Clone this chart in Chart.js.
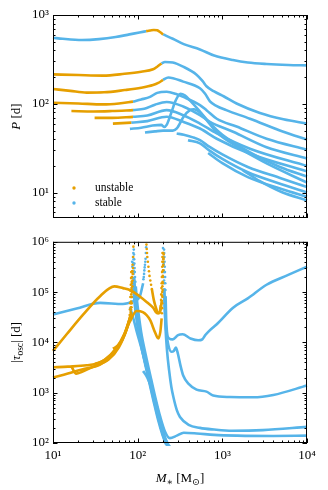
<!DOCTYPE html>
<html><head><meta charset="utf-8">
<script src="https://cdn.jsdelivr.net/npm/chart.js@4.4.1/dist/chart.umd.min.js"></script>
<style>
html,body{margin:0;padding:0;background:#fff;}
#wrap{position:relative;width:328px;height:490px;overflow:hidden;}
#c1{position:absolute;left:0;top:0;}
#c2{position:absolute;left:0;top:230px;}
</style></head><body>
<div id="wrap"><canvas id="c1" width="328" height="230"></canvas><canvas id="c2" width="328" height="260"></canvas></div>
<script>
const ORANGE = '#E69F00', BLUE = '#56B4E9';
const SERIF = '"Liberation Serif", "DejaVu Serif", serif';

const xTickValues = [10, 100, 1000, 10000];
const xTickLabels = ['10¹', '10²', '10³', '10⁴'];
const pTickValues = [10, 100, 1000];
const pTickLabels = ['10¹', '10²', '10³'];
const tauTickValues = [100, 1000, 10000, 100000, 1000000];
const tauTickLabels = ['10²', '10³', '10⁴', '10⁵', '10⁶'];
const legendLabels = ['unstable', 'stable'];

// ---- top panel: P [d] vs M [Msun] ----
const t1StableA = [[10,555],[13,540],[22,523],[35,535],[55,565],[80,605],[105,635],[126,658]];
const t1Unstable = [[126,658],[140,668],[155,678],[170,672],[185,640],[200,605]];
const t1StableB = [[200,605],[260,540],[350,470],[544,410],[800,350],[1334,311],[2000,292],[3337,281],[6000,274],[10000,271]];
const t2Unstable = [[10,215],[20,211],[39,208],[70,218],[110,230],[152,245],[170,262],[191,285]];
const t2Stable = [[191,285],[210,296],[260,292],[345,262],[496,213],[586,180],[650,158],[800,138],[1047,121],[1473,101],[2780,79],[5260,67],[10000,60]];
const t3Unstable = [[10,147],[16,140],[25,134],[40,135],[70,143],[110,152],[152,163],[175,172],[199,186]];
const t3Stable = [[199,186],[230,198],[345,178],[544,150],[623,131],[714,107],[850,95],[1113,85],[2120,68],[5260,48.5],[10000,39.6]];
const t4Unstable = [[10,103],[20,101],[39,98.6],[60,101],[88,106]];
const t4Stable = [[88,106],[110,112],[140,120],[170,133],[220,137],[280,130],[345,120],[544,97],[650,85],[860,68],[1473,55.6],[3330,40.5],[10000,30.5]];
const t5Unstable = [[16.5,83],[30,82],[50,83],[88,85]];
const t5Stable = [[88,85],[120,88],[160,98],[220,105],[345,93.5],[544,74.6],[714,62.8],[1340,48.5],[3330,32.5],[10000,24.3]];
const t6Unstable = [[31,69.5],[50,69.5],[88,71.5]];
const t6Stable = [[88,71.5],[130,74],[220,85],[345,74.6],[544,60],[860,46.5],[2120,31.3],[10000,20]];
const t7Unstable = [[51,60],[84,61.5]];
const t7Stable = [[84,61.5],[130,64],[220,71.6],[345,62.8],[544,52.8],[860,40.5],[2120,27.5],[10000,17.4]];
const t8Stable = [[81,52.3],[110,54],[150,57],[190,58],[205,55],[220,58],[250,80],[280,108],[320,130],[360,125],[420,108],[544,82],[700,62],[1000,45],[2120,28.5],[4790,19.5],[10000,15.2]];
const t9Stable = [[122,47.6],[160,49],[200,50],[260,50],[290,53],[350,72],[414,85],[460,87],[544,80],[650,66],[860,48],[1500,33],[3000,22.5],[10000,13]];
const t10Stable = [[289,46.4],[350,45],[450,42],[544,39],[700,33],[1000,27],[2000,19.5],[5000,14.5],[10000,11.6]];
const t11Stable = [[393,39],[544,36],[700,30],[1000,24],[2000,17],[5000,12.5],[10000,10.1]];
const t12Stable = [[680,28],[1000,21.5],[2000,15],[5000,11],[10000,9]];
const t13Stable = [[1750,17.9],[2780,13.5],[5000,10.2],[10000,8.2]];

// ---- bottom panel: |tau_osc| [d] vs M ----
const b1StableA = [[10,3.6e4],[19,4.7e4],[36,6.1e4],[67,5.8e4],[89,6.6e4],[106,8.2e4],[116,1.5e5]];
const b1StableADots = [[117,1.8e5],[118,2.0e5],[119,2.3e5],[120,2.7e5],[121,3.1e5],[122,3.5e5],[123,4e5],[124,4.6e5],[125,6.0e5],[126,7.8e5]];
const b1UnstableDots = [[127,8.8e5],[128,7.2e5],[129,6e5],[130,5e5],[132,4e5],[134,3.2e5],[136,2.6e5],[138,2.1e5],[141,1.7e5],[144,1.4e5],[147,1.15e5],
  [194,8.5e4],[195,1e5],[196,1.3e5],[197,1.6e5],[198,2.1e5],[199,2.7e5],[200,3.3e5],[201,4e5],[202,4.8e5],[203,5.6e5]];
const b1Unstable = [[147,1.15e5],[155,7e4],[165,4.8e4],[175,3.8e4],[185,4.2e4],[193,7e4]];
const b1StableBDots = [[205,7e5],[206,6e5],[207,5e5],[208,4e5],[209,3.2e5],[210,2.5e5],[211,2e5],[212,1.5e5],[213,1.1e5],[214,8e4]];
const b1StableB = [[214,8e4],[217,3e4],[222,1.6e4],[235,1.2e4],[260,1.15e4],[300,1.4e4],[340,1.45e4],[420,1.2e4],[520,1.1e4],[580,1.15e4],[630,1.4e4],[700,1.7e4],[860,2.3e4],[1340,4.9e4],[2000,7.5e4],[3330,1.4e5],[6000,2.2e5],[10000,3.2e5]];
const b2Unstable = [[10,6.8e3],[14.5,1.45e4],[22.8,3.6e4],[36,8.3e4],[53,1.3e5],[67,1.2e5],[81,1.1e5],[106,8.2e4],[130,6.2e4],[152,4.9e4],[170,3.8e4],[181,3.9e4],[188,5.5e4]];
const b2UnstableDots = [[189,7e4],[190,9e4],[191,1.2e5],[192,1.5e5],[193,2e5],[194,2.5e5],[195,3.2e5],[195.5,4e5],[196,5e5],[196.5,6e5]];
const b2StableDots = [[199,7.5e5],[200,6e5],[201,4.6e5],[202,3.5e5],[203,2.7e5],[204,2e5],[205,1.5e5],[206,1.1e5]];
const b2Stable = [[206,1.1e5],[208,6e4],[212,3e4],[218,1.6e4],[230,9e3],[250,6.5e3],[268,6.8e3],[282,7.9e3],[295,6.5e3],[320,3.5e3],[345,2.2e3],[400,1.5e3],[496,1.15e3],[650,1.05e3],[780,880],[1230,820],[2300,810],[4000,900],[10000,1390]];
const b3Unstable = [[10,2.0e3],[15,2.4e3],[22,2.9e3],[36,3.6e3],[50,5.5e3],[65,1.1e4],[81,2.6e4],[97,4.2e4],[115,4.0e4],[140,2.8e4],[160,1.6e4],[175,1.2e4],[185,1.6e4],[192,3e4]];
const b3UnstableDots = [[193,3.8e4],[194,4.8e4],[195,6e4],[196,8e4],[197,1.1e5],[198,1.5e5],[199,2e5],[200,2.7e5],[200.5,3.5e5],[201,4.5e5],[201.5,6e5]];
const b3StableDots = [[202,5e5],[203,3.6e5],[204,2.5e5],[205,1.7e5]];
const b3Stable = [[206,1.2e5],[209,5e4],[213,2e4],[222,7e3],[235,2.8e3],[250,1.3e3],[265,800],[290,450],[316,330],[400,230],[544,200],[800,185],[1300,175],[3000,180],[10000,209]];
const b4Unstable = [[10,3.2e3],[15,3.3e3],[25,3.5e3],[36,4.0e3],[50,6.0e3],[65,1.1e4],[78,2.5e4],[84,4e4]];
const b4UnstableDots = [[84.5,5e4],[85,6e4],[85.5,8e4],[86,1e5],[86.5,1.3e5],[87,1.7e5],[87.5,2.3e5],[88,3e5],[88.5,5e5],[89,8e5]];
const b4StableDots = [[90,7e5],[90.5,5.6e5],[91,4.5e5],[91.5,3.7e5],[92,3e5],[92.5,2.5e5],[93,2e5],[94,1.6e5]];
const b4Stable = [[95,1.3e5],[98,7e4],[103,3.5e4],[110,1.6e4],[125,5.5e3],[145,1.8e3],[165,700],[185,330],[210,170],[240,125],[290,140],[350,160],[500,155],[800,145],[1500,140],[4000,138],[10000,140]];
const b5Unstable = [[16.4,3.4e3],[18.8,2.4e3],[22,2.6e3],[30,3.3e3],[45,4.5e3],[60,8e3],[74,1.8e4],[83,3.5e4]];
const b5UnstableDots = [[83.5,4.5e4],[84,6e4],[84.5,8e4],[85,1.1e5],[85.5,1.5e5],[86,2e5],[86.5,2.6e5],[87,3.5e5]];
const b5StableDots = [[89,6e5],[89.5,4.5e5],[90,3.5e5],[90.5,2.6e5]];
const b5Stable = [[91,2e5],[94,8e4],[100,3e4],[110,1.2e4],[125,4.5e3],[145,1.5e3],[165,550],[185,250],[205,140],[225,100],[245,80]];
const b6Unstable = [[31,3.7e3],[40,4.4e3],[55,7.5e3],[70,1.5e4],[82,3.2e4]];
const b6UnstableDots = [[82.5,4e4],[83,5e4],[83.5,6.5e4],[84,9e4],[84.5,1.2e5],[85,1.6e5],[85.5,2e5],[86,2.6e5]];
const b6StableDots = [[88,5e5],[88.5,3.8e5],[89,3e5],[89.5,2.3e5]];
const b6Stable = [[90,1.8e5],[93,7e4],[100,2.4e4],[112,8e3],[130,2.6e3],[150,900],[170,380],[190,190],[210,115],[230,85]];
const b7Unstable = [[51,7.5e3],[60,9e3],[70,1.4e4],[80,2.8e4]];
const b7UnstableDots = [[80.5,3.5e4],[81,4.5e4],[81.5,6e4],[82,8e4],[82.5,1.05e5],[83,1.4e5],[83.5,1.9e5],[84,2.5e5]];
const b7StableDots = [[86,4e5],[86.5,3.2e5],[87,2.5e5],[87.5,1.9e5]];
const b7Stable = [[88,1.5e5],[92,6e4],[100,2e4],[115,6e3],[135,1.8e3],[155,650],[175,280],[195,150],[215,95]];
const b8Stable = [[81,5e4],[88,3.2e4],[97,1.7e4],[110,8e3],[125,3.5e3],[145,1.3e3],[165,500],[185,230],[200,140],[215,100],[230,80]];
const b9Stable = [[116,2.7e3],[130,2e3],[150,1.1e3],[170,500],[190,240],[210,130],[225,95]];

// ---- helpers ----
function line(pts, color){
  return {data: pts.map(p => ({x:p[0], y:p[1]})), showLine:true, borderColor:color, backgroundColor:color,
    borderWidth:2.6, pointRadius:0, cubicInterpolationMode:'monotone', fill:false, clip:3};
}
function dots(pts, color){
  return {data: pts.map(p => ({x:p[0], y:p[1]})), showLine:false, pointRadius:1.3, pointBorderWidth:0,
    pointBackgroundColor:color, backgroundColor:color, borderColor:color, clip:3};
}
function logMarks(min, max){
  const out = [];
  for (let e = Math.floor(Math.log10(min)) - 1; e <= Math.ceil(Math.log10(max)); e++){
    for (let m = 1; m <= 9; m++){
      const v = m * Math.pow(10, e);
      if (v >= min * 0.9999 && v <= max * 1.0001) out.push([v, m === 1]);
    }
  }
  return out;
}
const framePlugin = {
  id: 'frame',
  afterDatasetsDraw(chart){
    const ctx = chart.ctx, a = chart.chartArea, xs = chart.scales.x, ys = chart.scales.y;
    ctx.save();
    ctx.strokeStyle = '#000'; ctx.lineWidth = 1;
    ctx.beginPath();
    for (const [v, maj] of logMarks(xs.min, xs.max)){
      const px = Math.round(xs.getPixelForValue(v)) + 0.5, L = maj ? 4.5 : 2.5;
      ctx.moveTo(px, a.bottom); ctx.lineTo(px, a.bottom - L);
      ctx.moveTo(px, a.top); ctx.lineTo(px, a.top + L);
    }
    for (const [v, maj] of logMarks(ys.min, ys.max)){
      const py = Math.round(ys.getPixelForValue(v)) + 0.5, L = maj ? 4.5 : 2.5;
      ctx.moveTo(a.left, py); ctx.lineTo(a.left + L, py);
      ctx.moveTo(a.right, py); ctx.lineTo(a.right - L, py);
    }
    ctx.stroke();
    ctx.strokeRect(a.left + 0.5, a.top + 0.5, a.right - a.left - 1, a.bottom - a.top - 1);
    ctx.restore();
  }
};
function drawRich(ctx, parts, x, y){
  let w = 0;
  for (const p of parts){ ctx.font = p.f; w += ctx.measureText(p.t).width; }
  let cx = x - w / 2;
  for (const p of parts){ ctx.font = p.f; ctx.fillText(p.t, cx, y + (p.dy || 0)); cx += ctx.measureText(p.t).width; }
}
const F = '13px ' + SERIF, FI = 'italic 13px ' + SERIF, FS = '9.5px ' + SERIF;
function yTitle(chart, parts){
  const ctx = chart.ctx, a = chart.chartArea;
  ctx.save();
  ctx.fillStyle = '#000'; ctx.textBaseline = 'alphabetic';
  ctx.translate(20, (a.top + a.bottom) / 2);
  ctx.rotate(-Math.PI / 2);
  drawRich(ctx, parts, 0, 0);
  ctx.restore();
}
const topTitles = {
  id: 'topTitles',
  afterDraw(chart){
    yTitle(chart, [{t:'P', f:FI}, {t:' [d]', f:F}]);
    const ctx = chart.ctx, a = chart.chartArea, cols = [ORANGE, BLUE];
    ctx.save();
    legendLabels.forEach((t, i) => {
      const y = a.bottom - 30 + 15 * i;
      ctx.fillStyle = cols[i];
      ctx.beginPath(); ctx.arc(a.left + 21, y, 1.7, 0, 2 * Math.PI); ctx.fill();
      ctx.fillStyle = '#000'; ctx.font = '11.5px ' + SERIF; ctx.textBaseline = 'middle';
      ctx.fillText(t, a.left + 42, y);
    });
    ctx.restore();
  }
};
const bottomTitles = {
  id: 'bottomTitles',
  afterDraw(chart){
    yTitle(chart, [{t:'|', f:F}, {t:'τ', f:FI}, {t:'osc', f:FS, dy:3}, {t:'| [d]', f:F}]);
    const ctx = chart.ctx, a = chart.chartArea;
    ctx.save(); ctx.fillStyle = '#000'; ctx.textBaseline = 'alphabetic';
    drawRich(ctx, [{t:'M', f:FI}, {t:'∗', f:FS, dy:3}, {t:' [M', f:F}, {t:'⊙', f:FS, dy:3}, {t:']', f:F}], (a.left + a.right) / 2, 252);
    ctx.restore();
  }
};
function fixedTicks(values){ return function(scale){ scale.ticks = values.map(v => ({value:v, major:true})); }; }
function labelFor(values, labels){ return function(v){ const i = values.findIndex(t => Math.abs(t - v) / t < 1e-6); return i >= 0 ? labels[i] : ''; }; }

// ---- top chart ----
const topSets = [
  line(t1Unstable, ORANGE), line(t2Unstable, ORANGE), line(t3Unstable, ORANGE), line(t4Unstable, ORANGE),
  line(t5Unstable, ORANGE), line(t6Unstable, ORANGE), line(t7Unstable, ORANGE),
  line(t1StableA, BLUE), line(t1StableB, BLUE), line(t2Stable, BLUE), line(t3Stable, BLUE), line(t4Stable, BLUE),
  line(t5Stable, BLUE), line(t6Stable, BLUE), line(t7Stable, BLUE), line(t8Stable, BLUE), line(t9Stable, BLUE),
  line(t10Stable, BLUE), line(t11Stable, BLUE), line(t12Stable, BLUE), line(t13Stable, BLUE)
];
new Chart(document.getElementById('c1'), {
  type: 'scatter',
  data: {datasets: topSets},
  options: {
    responsive:false, animation:false, events:[],
    layout: {padding: {top:15, right:21, left:0, bottom:0}},
    plugins: {legend:{display:false}, tooltip:{enabled:false}},
    scales: {
      x: {type:'logarithmic', min:10, max:10000, bounds:'data',
          grid:{display:false, drawTicks:false}, border:{display:false}, ticks:{display:false},
          afterBuildTicks: fixedTicks(xTickValues), afterFit(s){ s.height = 12; }},
      y: {type:'logarithmic', min:5.2, max:1000, bounds:'data',
          grid:{display:false, drawTicks:false}, border:{display:false},
          ticks:{color:'#000', font:{family:SERIF, size:13}, padding:4, autoSkip:false, callback: labelFor(pTickValues, pTickLabels)},
          afterBuildTicks: fixedTicks(pTickValues), afterFit(s){ s.width = 53; }}
    }
  },
  plugins: [framePlugin, topTitles]
});

// ---- bottom chart ----
const botSets = [
  line(b1Unstable, ORANGE), dots(b1UnstableDots, ORANGE),
  line(b2Unstable, ORANGE), dots(b2UnstableDots, ORANGE),
  line(b3Unstable, ORANGE), dots(b3UnstableDots, ORANGE),
  line(b4Unstable, ORANGE), dots(b4UnstableDots, ORANGE),
  line(b5Unstable, ORANGE), dots(b5UnstableDots, ORANGE),
  line(b6Unstable, ORANGE), dots(b6UnstableDots, ORANGE),
  line(b7Unstable, ORANGE), dots(b7UnstableDots, ORANGE),
  line(b1StableA, BLUE), dots(b1StableADots, BLUE), dots(b1StableBDots, BLUE), line(b1StableB, BLUE),
  dots(b2StableDots, BLUE), line(b2Stable, BLUE), dots(b3StableDots, BLUE), line(b3Stable, BLUE),
  dots(b4StableDots, BLUE), line(b4Stable, BLUE), dots(b5StableDots, BLUE), line(b5Stable, BLUE),
  dots(b6StableDots, BLUE), line(b6Stable, BLUE), dots(b7StableDots, BLUE), line(b7Stable, BLUE),
  line(b8Stable, BLUE), line(b9Stable, BLUE)
];
new Chart(document.getElementById('c2'), {
  type: 'scatter',
  data: {datasets: botSets},
  options: {
    responsive:false, animation:false, events:[],
    layout: {padding: {top:10, right:21, left:0, bottom:0}},
    plugins: {legend:{display:false}, tooltip:{enabled:false}},
    scales: {
      x: {type:'logarithmic', min:10, max:10000, bounds:'data',
          grid:{display:false, drawTicks:false}, border:{display:false},
          ticks:{color:'#000', font:{family:SERIF, size:13}, padding:5, autoSkip:false, maxRotation:0, minRotation:0,
                 callback: labelFor(xTickValues, xTickLabels)},
          afterBuildTicks: fixedTicks(xTickValues), afterFit(s){ s.height = 47; }},
      y: {type:'logarithmic', min:100, max:1000000, bounds:'data',
          grid:{display:false, drawTicks:false}, border:{display:false},
          ticks:{color:'#000', font:{family:SERIF, size:13}, padding:4, autoSkip:false, callback: labelFor(tauTickValues, tauTickLabels)},
          afterBuildTicks: fixedTicks(tauTickValues), afterFit(s){ s.width = 53; }}
    }
  },
  plugins: [framePlugin, bottomTitles]
});
</script>
</body></html>
